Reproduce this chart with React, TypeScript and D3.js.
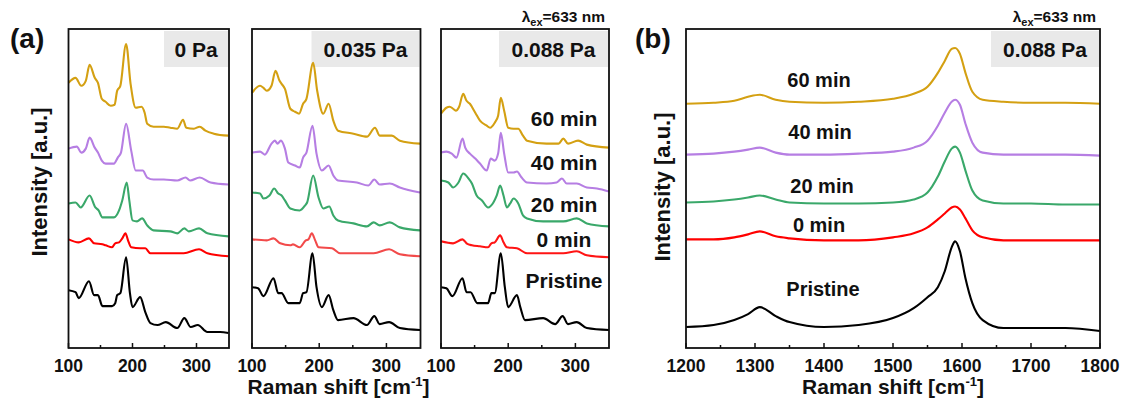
import React from "react";
import * as d3 from "d3";

// ---------- DATA ----------
const SERIES_LABELS = ["60 min", "40 min", "20 min", "0 min", "Pristine"];
const PRESSURES = ["0 Pa", "0.035 Pa", "0.088 Pa"];
const TICKS_A = [100, 200, 300];
const TICKS_B = [1200, 1300, 1400, 1500, 1600, 1700, 1800];

type P = [number, number];

// 0 Pa (wavenumber cm-1, intensity a.u.)
const p0_60: P[] = [[100,266],[111,271],[120,263],[127,268],[133,284],[141,271],[146,266],[152,250],[158,247],[166,243],[172,244],[176,258],[181,263],[190,305],[197,265],[205,241],[214,242],[219,236],[223,225],[233,222],[249,222],[259,221],[270,220],[279,229],[284,221],[296,220],[305,222],[314,218],[327,215],[350,213]];
const p0_40: P[] = [[100,200],[113,202],[120,196],[127,200],[133,211],[141,201],[146,196],[152,188],[158,185],[171,185],[177,191],[182,196],[190,225],[198,198],[205,178],[216,178],[223,171],[233,169],[249,169],[270,168],[283,171],[290,168],[305,171],[322,166],[350,164]];
const p0_20: P[] = [[100,145],[111,146],[119,141],[133,153],[142,141],[147,138],[153,131],[171,131],[179,138],[184,148],[191,166],[195,148],[200,128],[207,127],[215,130],[223,123],[233,118],[259,117],[270,115],[281,120],[288,117],[304,120],[317,115],[350,112]];
const p0_0: P[] = [[100,109],[116,106],[132,110],[140,105],[153,104],[158,103],[168,101],[173,105],[179,106],[184,110],[189,115],[193,108],[198,101],[212,100],[220,100],[228,95],[280,95],[304,99],[317,95],[350,92]];
const p0_pr: P[] = [[100,58],[111,56],[116,50],[132,67],[140,53],[146,53],[153,42],[168,42],[173,45],[176,53],[181,55],[190,91],[196,55],[200,41],[212,51],[220,36],[228,25],[239,23],[252,26],[270,20],[281,30],[291,21],[302,23],[317,16],[337,16],[350,15]];

// 0.035 Pa
const p1_60: P[] = [[100,256],[112,263],[117,261],[122,258],[129,263],[135,278],[141,268],[144,265],[149,260],[157,240],[164,237],[170,235],[176,245],[181,250],[191,286],[197,258],[206,235],[214,245],[221,228],[228,218],[251,215],[271,212],[283,221],[290,213],[308,213],[320,208],[350,205]];
const p1_40: P[] = [[100,196],[112,197],[119,194],[129,205],[134,208],[138,205],[143,208],[149,200],[154,186],[164,183],[171,181],[176,191],[181,196],[190,223],[196,195],[204,178],[214,183],[221,173],[228,168],[256,166],[273,163],[282,169],[290,164],[305,165],[320,161],[350,156]];
const p1_20: P[] = [[100,156],[112,155],[117,150],[126,153],[133,160],[139,155],[144,153],[149,148],[157,140],[171,138],[179,143],[182,146],[191,173],[199,151],[206,140],[215,142],[221,133],[228,128],[251,125],[271,122],[281,126],[290,123],[305,126],[320,121],[350,118]];
const p1_0: P[] = [[100,109],[122,108],[132,110],[142,105],[157,103],[161,104],[171,101],[180,108],[184,109],[189,115],[194,108],[199,101],[219,100],[231,95],[281,95],[304,99],[320,94],[350,92]];
const p1_pr: P[] = [[100,61],[109,60],[117,52],[132,70],[139,55],[144,55],[154,45],[171,45],[176,55],[181,56],[190,95],[196,61],[204,41],[214,53],[221,38],[228,28],[251,30],[271,23],[282,32],[290,24],[304,26],[320,20],[350,18]];

// 0.088 Pa
const p2_60: P[] = [[100,235],[108,241],[113,242],[118,240],[122,238],[127,242],[133,255],[138,248],[143,245],[151,236],[158,228],[168,223],[173,221],[180,226],[185,233],[189,251],[194,238],[200,221],[208,220],[215,220],[222,213],[228,208],[257,205],[275,205],[282,210],[289,205],[304,208],[317,204],[350,201]];
const p2_40: P[] = [[100,196],[108,197],[116,195],[123,191],[132,210],[136,201],[143,195],[151,190],[158,185],[168,178],[174,190],[180,188],[185,195],[189,216],[194,195],[200,176],[208,176],[213,177],[220,171],[228,166],[257,165],[272,166],[280,170],[287,165],[302,165],[317,161],[332,160],[350,157]];
const p2_20: P[] = [[100,168],[111,166],[118,161],[126,166],[133,175],[141,170],[146,165],[153,153],[161,148],[170,141],[178,146],[183,153],[188,163],[193,153],[198,141],[203,145],[208,150],[215,145],[222,133],[228,130],[252,127],[282,127],[302,130],[317,125],[350,122]];
const p2_0: P[] = [[100,107],[118,105],[132,109],[138,105],[146,103],[158,102],[170,101],[175,105],[180,106],[188,113],[193,106],[198,101],[213,100],[228,95],[282,95],[302,97],[317,93],[350,91]];
const p2_pr: P[] = [[100,61],[108,60],[117,52],[132,70],[138,56],[144,56],[154,45],[170,45],[175,55],[180,55],[189,95],[195,61],[200,41],[213,53],[218,41],[225,28],[252,30],[270,24],[281,32],[289,24],[302,26],[317,20],[350,18]];

// panel (b), 0.088 Pa, 1200-1800 cm-1
const wavenumberB = [1200,1240,1270,1290,1307,1330,1350,1400,1450,1500,1530,1550,1565,1575,1585,1590,1597,1605,1615,1630,1660,1700,1750,1800];
const b_60 = [245,246,248,252,254,249,247,246,247,250,255,262,276,288,300,301,295,276,257,249,247,246,246,245];
const b_40 = [194,195,197,199,201,196,194,194,195,197,201,208,223,236,247,249,244,225,206,196,194,194,194,193];
const b_20 = [146,147,149,151,153,149,146,145,145,146,149,156,172,187,200,202,196,178,158,148,145,145,144,144];
const b_0 = [109,109,111,114,117,112,110,108,108,111,115,121,129,135,141,142,139,130,118,111,108,108,108,108];
const b_pr = [21,23,28,34,41,32,26,21,23,30,40,51,61,77,101,107,97,70,45,28,20,20,20,17];

// ---------- STYLE ----------
const FONT = "'Liberation Sans', Arial, Helvetica, sans-serif";
const GOLD = "#d4a012";
const PURPLE = "#b67ee3";
const GREEN = "#3aa86a";
const BLACK = "#000000";

const TOP = 29;
const BOTTOM = 348;
const Y_DOMAIN: [number, number] = [0, 320];

const subplotsA = [
  { left: 68.5, right: 229, xMax: 350.8, series: [p0_60, p0_40, p0_20, p0_0, p0_pr], red: "#ff0000", pressure: PRESSURES[0], boxW: 64 },
  { left: 252, right: 420.5, xMax: 350.7, series: [p1_60, p1_40, p1_20, p1_0, p1_pr], red: "#f24a4a", pressure: PRESSURES[1], boxW: 108 },
  { left: 441, right: 609, xMax: 350, series: [p2_60, p2_40, p2_20, p2_0, p2_pr], red: "#ff1414", pressure: PRESSURES[2], boxW: 109 },
];

function Frame({ left, right }: { left: number; right: number }) {
  return (
    <rect x={left} y={TOP} width={right - left} height={BOTTOM - TOP} fill="none" stroke="#111" strokeWidth={1.8} />
  );
}

function BottomTicks({ xs, majors, minors }: { xs: d3.ScaleLinear<number, number>; majors: number[]; minors: number[] }) {
  return (
    <g>
      {minors.map((t) => (
        <line key={"m" + t} x1={xs(t)} x2={xs(t)} y1={BOTTOM} y2={BOTTOM - 3} stroke="#111" strokeWidth={1.5} />
      ))}
      {majors.map((t) => (
        <g key={"M" + t}>
          <line x1={xs(t)} x2={xs(t)} y1={BOTTOM} y2={BOTTOM - 5} stroke="#111" strokeWidth={1.5} />
          <text x={xs(t)} y={372} textAnchor="middle" fontSize={17.5} fontWeight="bold" fontFamily={FONT} fill="#111">
            {t}
          </text>
        </g>
      ))}
    </g>
  );
}

function PressureBox({ right, w, label }: { right: number; w: number; label: string }) {
  return (
    <g>
      <rect x={right - w - 1} y={TOP + 2} width={w} height={36} fill="#e9e9e9" />
      <text x={right - 1 - w / 2} y={TOP + 28} textAnchor="middle" fontSize={21} fontWeight="bold" fontFamily={FONT} fill="#111">
        {label}
      </text>
    </g>
  );
}

function Lambda({ right }: { right: number }) {
  return (
    <text x={right - 4} y={22} textAnchor="end" fontSize={15.5} fontWeight="bold" fontFamily={FONT} fill="#111">
      λ<tspan dy={4} fontSize={11}>ex</tspan>
      <tspan dy={-4}>=633 nm</tspan>
    </text>
  );
}

export default function App() {
  const ys = d3.scaleLinear().domain(Y_DOMAIN).range([BOTTOM, TOP]);
  const colorsFor = (red: string) => [GOLD, PURPLE, GREEN, red, BLACK];

  const xsB = d3.scaleLinear().domain([1200, 1800]).range([686, 1100]);
  const lineB = d3
    .line<number>()
    .x((_, i) => xsB(wavenumberB[i]))
    .y((d) => ys(d))
    .curve(d3.curveMonotoneX);
  const seriesB = [b_60, b_40, b_20, b_0, b_pr];
  const colorsB = colorsFor("#ff0000");

  const labelYA = [126, 170, 212, 247, 288];
  const labelYB = [87, 139, 193, 232, 296];
  const labelXB = [819, 820, 822, 819, 823];

  return (
    <svg width={1121} height={401} style={{ position: "absolute", left: 0, top: 0, background: "#fff" }}>
      {/* Panel (a) */}
      {subplotsA.map((sp, k) => {
        const xs = d3.scaleLinear().domain([100, sp.xMax]).range([sp.left, sp.right]);
        const line = d3
          .line<P>()
          .x((d) => xs(d[0]))
          .y((d) => ys(d[1]))
          .curve(d3.curveMonotoneX);
        const cols = colorsFor(sp.red);
        return (
          <g key={k}>
            <PressureBox right={sp.right} w={sp.boxW} label={sp.pressure} />
            {sp.series.map((s, i) => (
              <path key={i} d={line(s) || ""} fill="none" stroke={cols[i]} strokeWidth={2.1} strokeLinejoin="round" />
            ))}
            <Frame left={sp.left} right={sp.right} />
            <BottomTicks xs={xs} majors={TICKS_A} minors={[150, 250]} />
          </g>
        );
      })}
      {SERIES_LABELS.map((l, i) => (
        <text key={l} x={564} y={labelYA[i]} textAnchor="middle" fontSize={21} fontWeight="bold" fontFamily={FONT} fill="#111">
          {l}
        </text>
      ))}
      <Lambda right={609} />
      <text x={10} y={48} fontSize={28} fontWeight="bold" fontFamily={FONT} fill="#111">(a)</text>
      <text transform="translate(47,182) rotate(-90)" textAnchor="middle" fontSize={22} fontWeight="bold" fontFamily={FONT} fill="#111">
        Intensity [a.u.]
      </text>
      <text x={338.5} y={394} textAnchor="middle" fontSize={21} fontWeight="bold" fontFamily={FONT} fill="#111">
        Raman shift [cm<tspan dy={-8} fontSize={13}>-1</tspan>
        <tspan dy={8}>]</tspan>
      </text>

      {/* Panel (b) */}
      <PressureBox right={1100} w={108} label={PRESSURES[2]} />
      {seriesB.map((s, i) => (
        <path key={i} d={lineB(s) || ""} fill="none" stroke={colorsB[i]} strokeWidth={2.1} strokeLinejoin="round" />
      ))}
      <Frame left={686} right={1100} />
      <BottomTicks xs={xsB} majors={TICKS_B} minors={[1250, 1350, 1450, 1550, 1650, 1750]} />
      {SERIES_LABELS.map((l, i) => (
        <text key={l} x={labelXB[i]} y={labelYB[i]} textAnchor="middle" fontSize={20} fontWeight="bold" fontFamily={FONT} fill="#111">
          {l}
        </text>
      ))}
      <Lambda right={1100} />
      <text x={635} y={48} fontSize={28} fontWeight="bold" fontFamily={FONT} fill="#111">(b)</text>
      <text transform="translate(670,187) rotate(-90)" textAnchor="middle" fontSize={22} fontWeight="bold" fontFamily={FONT} fill="#111">
        Intensity [a.u.]
      </text>
      <text x={893} y={394} textAnchor="middle" fontSize={21} fontWeight="bold" fontFamily={FONT} fill="#111">
        Raman shift [cm<tspan dy={-8} fontSize={13}>-1</tspan>
        <tspan dy={8}>]</tspan>
      </text>
    </svg>
  );
}
